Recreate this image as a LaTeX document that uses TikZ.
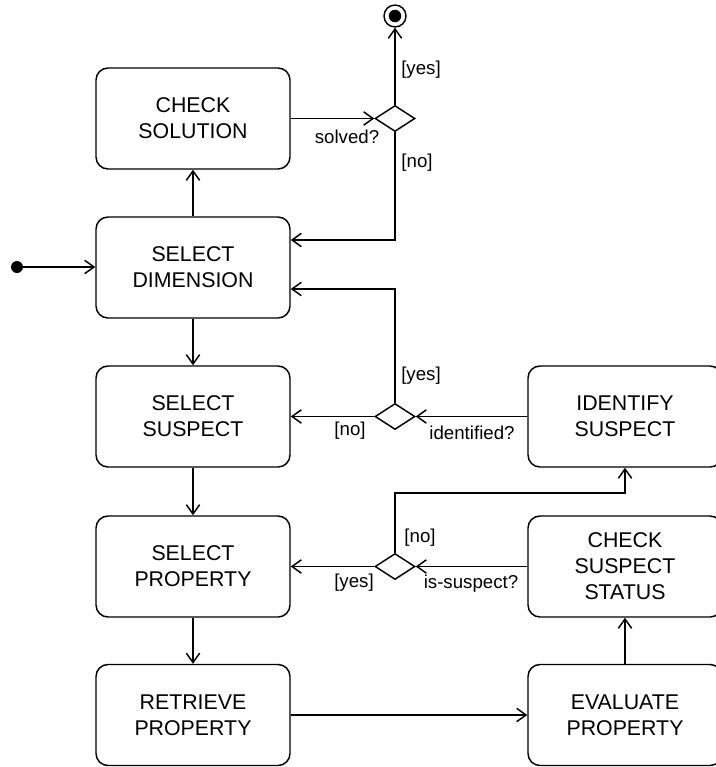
\documentclass[tikz,border=0pt]{standalone}
\usepackage{fontspec}
\setmainfont{Liberation Sans}
\usetikzlibrary{shapes.geometric,arrows.meta}

\tikzset{
  state/.style={draw, line width=1.1pt, rounded corners=9pt,
    minimum width=145.5pt, minimum height=75.75pt, align=center,
    inner sep=2pt, font=\fontsize{16}{19.5}\selectfont},
  choice/.style={draw, line width=1.1pt, diamond, aspect=1.54,
    minimum width=30pt, minimum height=19.5pt, inner sep=0pt},
  guard/.style={inner sep=0pt, font=\fontsize{14}{16}\selectfont},
  flow/.style={line width=1.1pt, -{Straight Barb[length=7pt,width=10pt]}},
}

\begin{document}
\begin{tikzpicture}[x=0.75pt,y=-0.75pt]
\useasboundingbox (0,0) rectangle (715,767);

% activity states, left column
\node[state] (cs) at (193,118.5) {CHECK\\SOLUTION};
\node[state] (sd) at (193,267.5) {SELECT\\DIMENSION};
\node[state] (ss) at (193,416.5) {SELECT\\SUSPECT};
\node[state] (sp) at (193,566.5) {SELECT\\PROPERTY};
\node[state] (rp) at (193,715) {RETRIEVE\\PROPERTY};

% activity states, right column
\node[state] (is)  at (625,416.5) {IDENTIFY\\SUSPECT};
\node[state] (css) at (625,566.5) {CHECK\\SUSPECT\\STATUS};
\node[state] (ep)  at (625,715) {EVALUATE\\PROPERTY};

% decisions
\node[choice] (d1) at (395,118.5) {};
\node[choice] (d2) at (395,416.5) {};
\node[choice] (d3) at (395,566.5) {};

% start and end
\node[circle, fill, minimum size=9pt, inner sep=0pt] (init) at (17,267) {};
\node[circle, draw, line width=1.1pt, minimum size=16.5pt, inner sep=0pt] (fin) at (395,16) {};
\fill (fin.center) circle (4.7pt);

% helper heights for the bent connectors
\coordinate (yNo)  at (0,240);
\coordinate (yYes) at (0,289);
\coordinate (yUp)  at (0,493);

% transitions
\draw[flow] (init) -- (sd.west |- init);
\draw[flow] (sd.north) -- (cs.south);
\draw[flow] (cs.east) -- (d1.west);
\draw[flow] (d1.north) -- (fin.south);
\draw[flow] (d1.south) |- (sd.east |- yNo);
\draw[flow] (sd.south) -- (ss.north);
\draw[flow] (is.west) -- (d2.east);
\draw[flow] (d2.west) -- (ss.east);
\draw[flow] (d2.north) |- (sd.east |- yYes);
\draw[flow] (ss.south) -- (sp.north);
\draw[flow] (css.west) -- (d3.east);
\draw[flow] (d3.west) -- (sp.east);
\draw[flow] (d3.north) |- (is.south |- yUp) -- (is.south);
\draw[flow] (sp.south) -- (rp.north);
\draw[flow] (rp.east) -- (ep.west);
\draw[flow] (ep.north) -- (css.south);

% guards
\node[guard] (g1) at (421,70)  {[yes]};
\node[guard] (g2) at (347,137) {solved?};
\node[guard] (g3) at (417,163) {[no]};
\node[guard] (g4) at (421,376) {[yes]};
\node[guard] (g5) at (350,431) {[no]};
\node[guard] (g6) at (472,433) {identified?};
\node[guard] (g7) at (420,538) {[no]};
\node[guard] (g8) at (354,583) {[yes]};
\node[guard] (g9) at (471,584) {is-suspect?};
\end{tikzpicture}
\end{document}
